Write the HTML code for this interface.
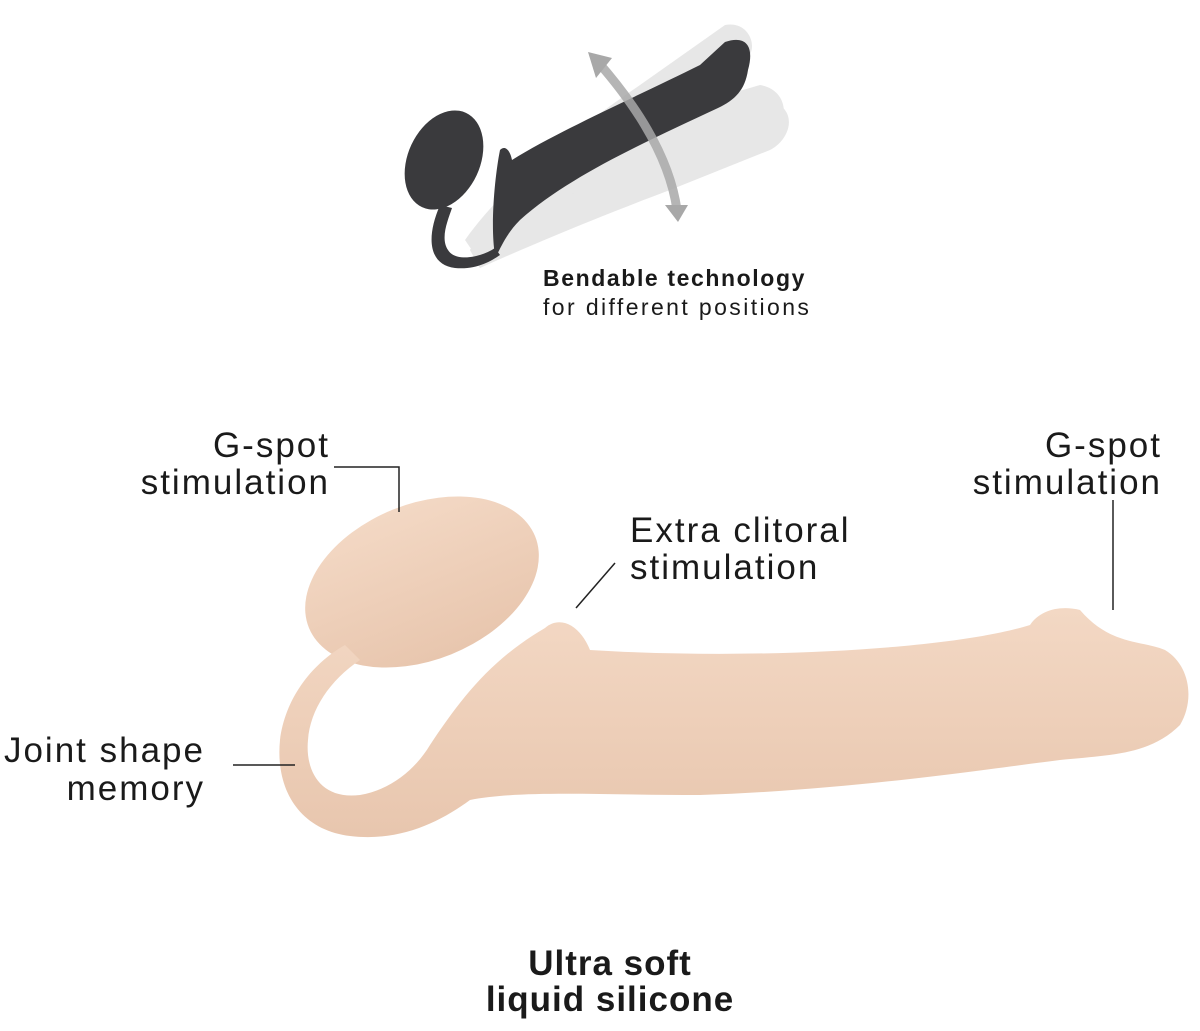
<!DOCTYPE html>
<html><head><meta charset="utf-8"><style>
html,body{margin:0;padding:0;background:#fff;}
svg{display:block}
text{font-family:"Liberation Sans","DejaVu Sans",sans-serif;fill:#1a1a1a}
</style></head><body>
<svg width="1200" height="1031" viewBox="0 0 1200 1031" xmlns="http://www.w3.org/2000/svg">
<defs>
<linearGradient id="sk" x1="0" y1="0" x2="0" y2="1">
<stop offset="0" stop-color="#f3d8c4"/><stop offset="1" stop-color="#e8c6ae"/></linearGradient>
</defs>
<g fill="#d8d8d8" opacity="0.6">
<path d="M470,250 C500,200 560,160 640,120 L760,85 C790,90 790,125 770,135 L660,175 C580,210 520,245 480,268 Z"/>
<path d="M470,250 C510,215 580,190 660,160 L770,100 C800,110 790,140 770,150 L670,190 C590,220 520,250 480,268 Z"/>
<path d="M465,240 C500,190 560,140 640,85 L725,25 C750,20 760,50 745,60 L660,110 C580,160 520,220 480,262 Z"/>
</g>
<g fill="#3a3a3d">
<ellipse cx="444" cy="160" rx="36" ry="52" transform="rotate(25 444 160)"/>
<path d="M440,205 C425,240 430,265 455,268 C475,270 490,262 500,255 L495,248 C480,258 455,262 448,250 C440,238 448,220 452,208 Z"/>
<path d="M495,255 C490,225 495,175 500,150 C505,145 510,150 512,160 C560,130 640,95 700,65 L725,42 C745,35 755,45 748,70 C745,90 735,100 718,108 C650,140 570,175 520,220 C505,235 500,250 495,258 Z"/>
</g>
<g stroke="#a8a8a8" stroke-width="9" fill="none" opacity="0.85">
<path d="M598,62 C640,110 670,160 677,210"/>
</g>
<polygon points="588,52 612,58 596,78" fill="#a8a8a8"/>
<polygon points="665,205 688,205 678,222" fill="#a8a8a8"/>
<text x="543" y="286" font-size="23" font-weight="bold" letter-spacing="1.6">Bendable technology</text>
<text x="543" y="315" font-size="23" letter-spacing="2.4">for different positions</text>

<g fill="url(#sk)">
<ellipse cx="422" cy="582" rx="122" ry="78" transform="rotate(-22 422 582)"/>
<path d="M345,645 C310,665 285,700 280,740 C275,790 300,830 350,836 C400,842 440,822 470,800 C520,790 600,795 700,795 C850,790 980,770 1060,760 C1110,755 1150,755 1180,725 C1195,700 1190,665 1165,650 C1140,640 1110,645 1080,610 C1060,605 1040,610 1030,625 C950,650 750,660 590,650 C580,625 560,615 545,628 C490,660 460,700 430,745 C415,770 390,790 360,795 C320,800 305,770 308,740 C310,710 330,680 360,660 Z"/>
</g>
<g fill="none" stroke="#222" stroke-width="1.5">
<polyline points="334,467 399,467 399,512"/>
<line x1="1113" y1="500" x2="1113" y2="610"/>
<line x1="576" y1="608" x2="615" y2="563"/>
<line x1="233" y1="765" x2="295" y2="765"/>
</g>
<g font-size="35" letter-spacing="2">
<text x="330" y="457" text-anchor="end">G-spot</text>
<text x="330" y="494" text-anchor="end">stimulation</text>
<text x="1162" y="457" text-anchor="end">G-spot</text>
<text x="1162" y="494" text-anchor="end">stimulation</text>
<text x="630" y="542">Extra clitoral</text>
<text x="630" y="579">stimulation</text>
<text x="205" y="762" text-anchor="end">Joint shape</text>
<text x="205" y="800" text-anchor="end">memory</text>
<text x="610" y="975" text-anchor="middle" font-weight="bold" letter-spacing="1">Ultra soft</text>
<text x="610" y="1011" text-anchor="middle" font-weight="bold" letter-spacing="1">liquid silicone</text>
</g>
</svg>
</body></html>
